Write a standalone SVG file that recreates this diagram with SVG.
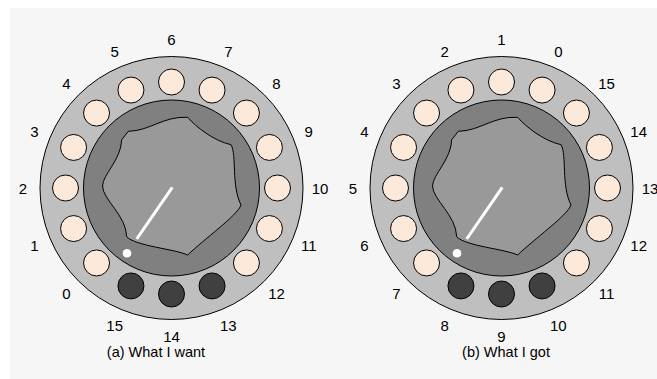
<svg xmlns="http://www.w3.org/2000/svg" xmlns:xlink="http://www.w3.org/1999/xlink" width="657" height="379" viewBox="0 0 657 379">
  <style>
    .ring { fill: #bfbfbf; stroke: #000; stroke-width: 1; }
    .well { fill: #808080; stroke: #000; stroke-width: 1; }
    .knob { fill: #999999; stroke: #000; stroke-width: 1; stroke-linejoin: miter; }
    .hole { fill: #fde9da; stroke: #000; stroke-width: 1; }
    .dark { fill: #404040; stroke: #000; stroke-width: 1; }
    .pointer { stroke: #fff; stroke-width: 3; fill: none; }
    .dot { fill: #fff; }
    .num { font-family: "Liberation Sans", Arial, sans-serif; font-size: 15px; fill: #000; text-anchor: middle; }
    .cap { font-family: "Liberation Sans", Arial, sans-serif; font-size: 14.5px; fill: #000; text-anchor: middle; }
  </style>
  <defs>
    <!-- one rotary switch body, centred at (171.5,188) -->
    <g id="dial">
      <circle class="ring" cx="171.5" cy="188" r="131.5"/>
      <circle class="hole" cx="96.55" cy="262.95" r="13"/>
      <circle class="hole" cx="73.57" cy="228.56" r="13"/>
      <circle class="hole" cx="65.5" cy="188" r="13"/>
      <circle class="hole" cx="73.57" cy="147.44" r="13"/>
      <circle class="hole" cx="96.55" cy="113.05" r="13"/>
      <circle class="hole" cx="130.94" cy="90.07" r="13"/>
      <circle class="hole" cx="171.5" cy="82" r="13"/>
      <circle class="hole" cx="212.06" cy="90.07" r="13"/>
      <circle class="hole" cx="246.45" cy="113.05" r="13"/>
      <circle class="hole" cx="269.43" cy="147.44" r="13"/>
      <circle class="hole" cx="277.5" cy="188" r="13"/>
      <circle class="hole" cx="269.43" cy="228.56" r="13"/>
      <circle class="hole" cx="246.45" cy="262.95" r="13"/>
      <circle class="dark" cx="212.06" cy="285.93" r="13"/>
      <circle class="dark" cx="171.5" cy="294" r="13"/>
      <circle class="dark" cx="130.94" cy="285.93" r="13"/>
      <circle class="well" cx="171.5" cy="188" r="88"/>
      <!-- scalloped knob: seven lobes joined by shallow concave bites -->
      <path class="knob" d="M 128.3,131.3 C 150,131 163,116 187.7,117.3 C 196,127 214,141 231,144.7 C 237,155 231,185 241,205 C 238,215 203,240 187.7,255 C 175,249 135,246 126.7,236.7 C 126,215 103,200 102.5,186 C 103,174 121,160 121.7,139.7 Z"/>
      <line class="pointer" x1="172.3" y1="187.3" x2="136.7" y2="239"/>
      <circle class="dot" cx="127" cy="253.3" r="4.3"/>
    </g>
  </defs>

  <rect x="0" y="0" width="657" height="379" fill="#ffffff"/>
  <rect x="10" y="8" width="647" height="371" fill="#f6f6f6"/>

  <!-- (a) desired numbering -->
  <g id="dial-a">
    <use xlink:href="#dial" href="#dial"/>
    <g id="dial-a-labels">
      <text class="num" x="66.5" y="298.9">0</text>
      <text class="num" x="34.3" y="250.7">1</text>
      <text class="num" x="23" y="193.9">2</text>
      <text class="num" x="34.3" y="137.1">3</text>
      <text class="num" x="66.5" y="88.9">4</text>
      <text class="num" x="114.7" y="56.7">5</text>
      <text class="num" x="171.5" y="45.4">6</text>
      <text class="num" x="228.3" y="56.7">7</text>
      <text class="num" x="276.5" y="88.9">8</text>
      <text class="num" x="308.7" y="137.1">9</text>
      <text class="num" x="320" y="193.9">10</text>
      <text class="num" x="308.7" y="250.7">11</text>
      <text class="num" x="276.5" y="298.9">12</text>
      <text class="num" x="228.3" y="331.1">13</text>
      <text class="num" x="171.5" y="341.5">14</text>
      <text class="num" x="114.7" y="331.1">15</text>
    </g>
    <text id="caption-a" class="cap" x="156" y="357">(a) What I want</text>
  </g>

  <!-- (b) actual numbering -->
  <g id="dial-b">
    <use xlink:href="#dial" href="#dial" transform="translate(330,0)"/>
    <g id="dial-b-labels" transform="translate(330,0)">
      <text class="num" x="66.5" y="298.9">7</text>
      <text class="num" x="34.3" y="250.7">6</text>
      <text class="num" x="23" y="193.9">5</text>
      <text class="num" x="34.3" y="137.1">4</text>
      <text class="num" x="66.5" y="88.9">3</text>
      <text class="num" x="114.7" y="56.7">2</text>
      <text class="num" x="171.5" y="45.4">1</text>
      <text class="num" x="228.3" y="56.7">0</text>
      <text class="num" x="276.5" y="88.9">15</text>
      <text class="num" x="308.7" y="137.1">14</text>
      <text class="num" x="320" y="193.9">13</text>
      <text class="num" x="308.7" y="250.7">12</text>
      <text class="num" x="276.5" y="298.9">11</text>
      <text class="num" x="228.3" y="331.1">10</text>
      <text class="num" x="171.5" y="341.5">9</text>
      <text class="num" x="114.7" y="331.1">8</text>
    </g>
    <text id="caption-b" class="cap" x="506" y="357">(b) What I got</text>
  </g>
</svg>
